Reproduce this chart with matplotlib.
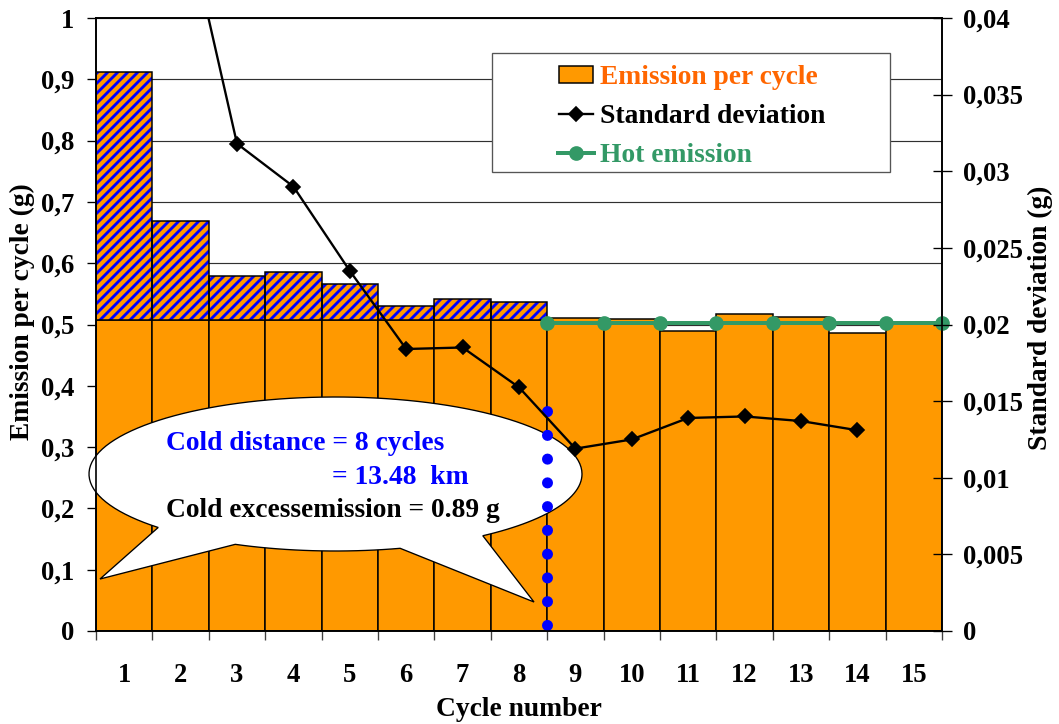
import numpy as np
import matplotlib
matplotlib.use('Agg')
import matplotlib.pyplot as plt
from matplotlib.path import Path
from matplotlib.patches import PathPatch, Rectangle
from matplotlib.lines import Line2D

# ---------------- data ----------------
cycles = list(range(1, 16))
emission = [0.912, 0.669, 0.579, 0.586, 0.566, 0.530, 0.542, 0.536,
            0.510, 0.509, 0.489, 0.517, 0.512, 0.486, 0.503]
cold_cycles = 8
hot_base = 0.507
std_dev = [0.070, 0.0480, 0.0318, 0.0290, 0.0235, 0.0184, 0.0185, 0.0159,
           0.0119, 0.0125, 0.0139, 0.0140, 0.0137, 0.0131, np.nan]
hot_cycles = [8, 9, 10, 11, 12, 13, 14, 15]
hot_emission = [0.503, 0.503, 0.503, 0.503, 0.503, 0.503, 0.503, 0.503]
cold_line = [0.01, 0.36]
left_ticks = [0, 0.1, 0.2, 0.3, 0.4, 0.5, 0.6, 0.7, 0.8, 0.9, 1.0]
left_tick_labels = ['0', '0,1', '0,2', '0,3', '0,4', '0,5', '0,6', '0,7', '0,8', '0,9', '1']
right_ticks = [0, 0.005, 0.01, 0.015, 0.02, 0.025, 0.03, 0.035, 0.04]
right_tick_labels = ['0', '0,005', '0,01', '0,015', '0,02', '0,025', '0,03', '0,035', '0,04']

# ---------------- style ----------------
DPI = 120
W, H = 1059, 724
plt.rcParams['font.family'] = ['Liberation Serif', 'DejaVu Serif']
plt.rcParams['font.weight'] = 'bold'
plt.rcParams['font.size'] = 16.5
plt.rcParams['hatch.linewidth'] = 1.7

ORANGE = '#FF9900'
BLUE = '#0000FF'
GREEN = '#339966'
TICK_FS = 16

def fx(px):
    return px / W

def fy(py):
    return 1 - py / H

fig = plt.figure(figsize=(W / DPI, H / DPI), dpi=DPI)
ax = fig.add_axes([fx(96), fy(631), (942 - 96) / W, (631 - 18) / H])
ax2 = ax.twinx()

# ---------------- bars ----------------
solid = [hot_base if i < cold_cycles else e for i, e in enumerate(emission)]
excess = [e - hot_base for e in emission[:cold_cycles]]
ax.bar(cycles, solid, width=1.0, color=ORANGE, edgecolor='black', linewidth=0.9, zorder=2)
ax.bar(cycles[:cold_cycles], excess, bottom=hot_base, width=1.0, color=ORANGE,
       edgecolor=BLUE, linewidth=0, hatch='////', zorder=2)
ax.bar(cycles[:cold_cycles], excess, bottom=hot_base, width=1.0, fill=False,
       edgecolor='black', linewidth=0.9, zorder=2.1)

# ---------------- callout ----------------
cx, cy, a, b = 335.5, 474.0, 246.5, 77.0
def ell(tdeg):
    t = np.radians(tdeg)
    return (cx + a * np.cos(t), cy + b * np.sin(t))
pts = []
for t in np.linspace(0, 53.3, 30):
    pts.append(ell(t))
pts.append((534, 602))
for t in np.linspace(74.8, 114, 20):
    pts.append(ell(t))
pts.append((100, 579))
for t in np.linspace(136, 360, 90):
    pts.append(ell(t))
verts = [(fx(x), fy(y)) for x, y in pts]
verts.append(verts[0])
codes = [Path.MOVETO] + [Path.LINETO] * (len(verts) - 2) + [Path.CLOSEPOLY]
bubble = PathPatch(Path(verts, codes), facecolor='white', edgecolor='black',
                   linewidth=0.8, transform=fig.transFigure, zorder=3, clip_on=False)
ax.add_patch(bubble)

# ---------------- lines ----------------
ax.plot([cold_cycles + 0.5] * 2, cold_line, color=BLUE, lw=6.6,
        linestyle=(0, (0.01, 2.15)), dash_capstyle='round', zorder=4)
ax.plot(np.array(hot_cycles) + 0.5, hot_emission, color=GREEN, lw=2.4, marker='o',
        ms=7.8, zorder=5, clip_on=False)
ax2.plot(cycles, std_dev, color='black', lw=1.4, marker='D', ms=6, zorder=5)

# ---------------- axes ----------------
ax.set_xlim(0.5, 15.5)
ax.set_ylim(0, 1)
ax2.set_ylim(0, 0.04)
ax.set_axisbelow(True)
ax.yaxis.grid(True, color='#303030', lw=0.7)

ax.set_xticks([c - 0.5 for c in cycles] + [cycles[-1] + 0.5])
ax.set_xticks(cycles, minor=True)
ax.set_xticklabels([str(c) for c in cycles], minor=True, fontsize=TICK_FS)
ax.tick_params(axis='x', which='major', direction='out', length=5.4, width=0.8,
               labelbottom=False, color='#404040')
ax.tick_params(axis='x', which='minor', length=0, pad=19.2)
ax.set_yticks(left_ticks, left_tick_labels, fontsize=TICK_FS)
ax.tick_params(axis='y', direction='out', length=5.4, width=0.8, pad=7.8)
ax2.set_yticks(right_ticks, right_tick_labels, fontsize=TICK_FS)
ax2.tick_params(axis='y', direction='inout', length=11.4, width=0.8, pad=6.9)

for s in ax.spines.values():
    s.set_linewidth(1.0)
for s in ax2.spines.values():
    s.set_linewidth(1.0)

fig.text(fx(519), fy(710), 'Cycle number', ha='center', va='center')
fig.text(fx(22), fy(312), 'Emission per cycle (g)', rotation=90, ha='center', va='center')
fig.text(fx(1040), fy(318), 'Standard deviation (g)', rotation=90, ha='center', va='center')

# ---------------- callout text ----------------
fig.text(fx(166), fy(450), 'Cold distance = 8 cycles', color=BLUE, va='baseline', zorder=6)
fig.text(fx(332), fy(484), '= 13.48  km', color=BLUE, va='baseline', zorder=6)
fig.text(fx(166), fy(517), 'Cold excessemission = 0.89 g', color='black', va='baseline', zorder=6)

# ---------------- legend ----------------
fig.add_artist(Rectangle((fx(492), fy(172)), (890 - 492) / W, (172 - 53) / H,
                         facecolor='white', edgecolor='#555555', linewidth=0.8,
                         transform=fig.transFigure, zorder=5))
fig.add_artist(Rectangle((fx(559), fy(83)), (593 - 559) / W, 17 / H,
                         facecolor=ORANGE, edgecolor='black', linewidth=0.9,
                         transform=fig.transFigure, zorder=6))
fig.add_artist(Line2D([fx(559), fx(593)], [fy(114), fy(114)], color='black', lw=1.4,
                      transform=fig.transFigure, zorder=6))
fig.add_artist(Line2D([fx(576)], [fy(114)], color='black', marker='D', ms=6,
                      transform=fig.transFigure, zorder=6))
fig.add_artist(Line2D([fx(558), fx(594)], [fy(153), fy(153)], color=GREEN, lw=2.4,
                      transform=fig.transFigure, zorder=6))
fig.add_artist(Line2D([fx(576)], [fy(153)], color=GREEN, marker='o', ms=7.8,
                      transform=fig.transFigure, zorder=6))
fig.text(fx(600), fy(84), 'Emission per cycle', color='#FF6600', va='baseline', zorder=7)
fig.text(fx(600), fy(123), 'Standard deviation', color='black', va='baseline', zorder=7)
fig.text(fx(600), fy(162), 'Hot emission', color=GREEN, va='baseline', zorder=7)

fig.savefig('out.png', dpi=DPI)
